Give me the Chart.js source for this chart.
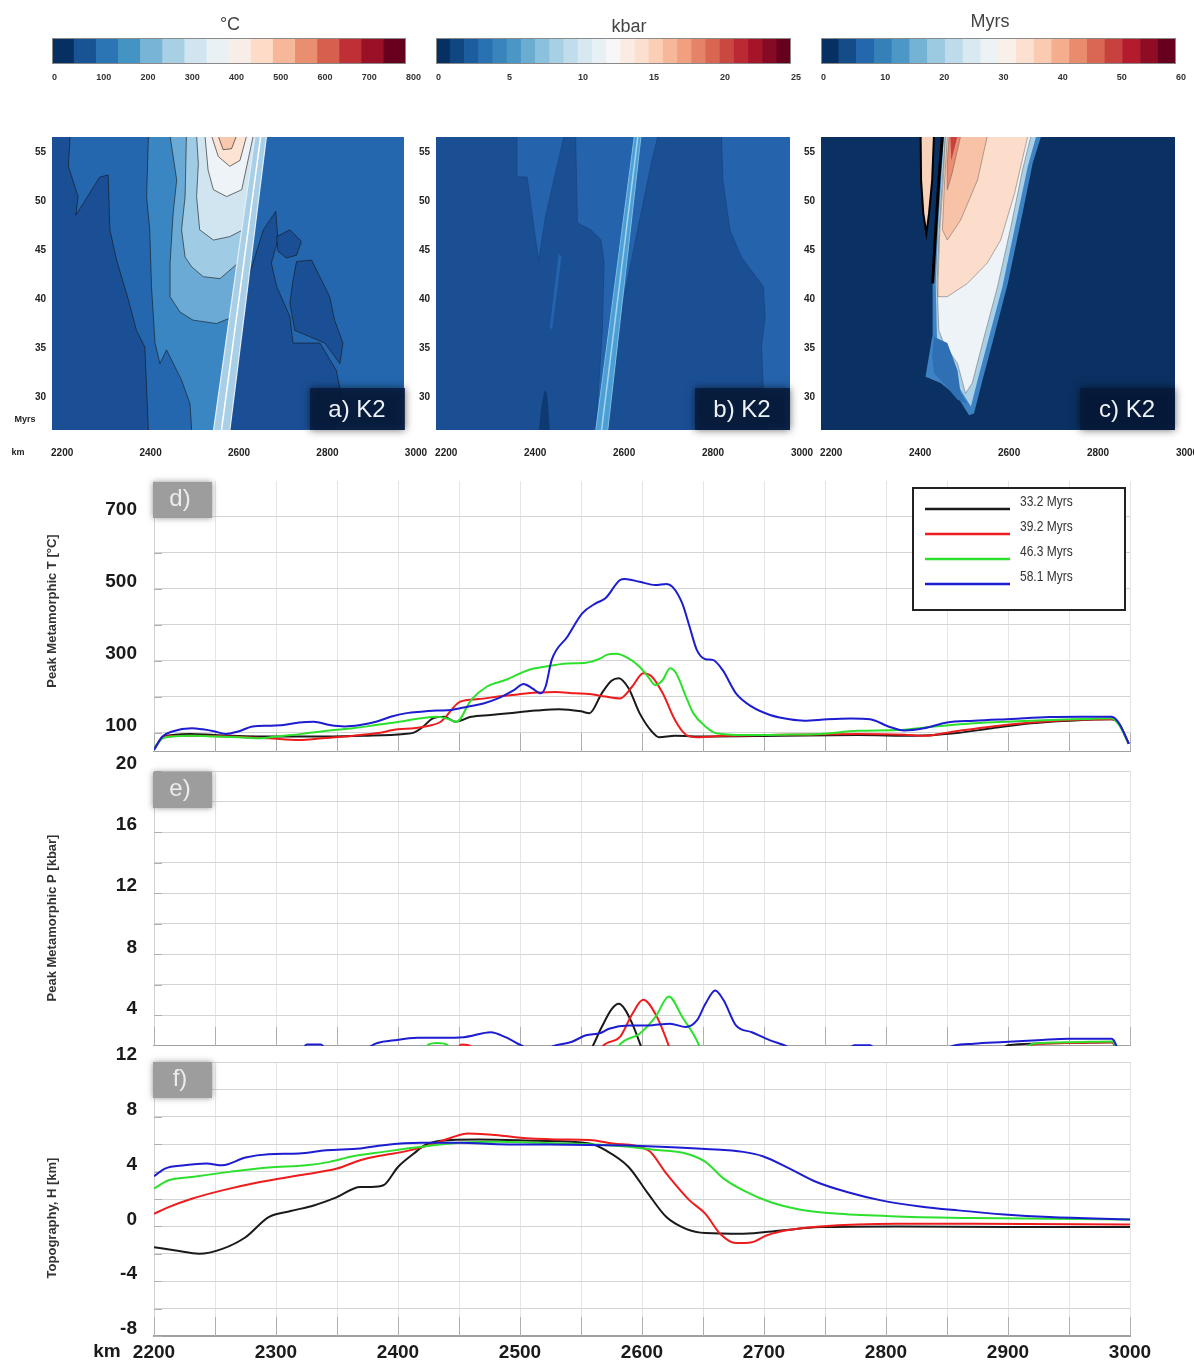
<!DOCTYPE html>
<html><head><meta charset="utf-8">
<script src="https://cdn.jsdelivr.net/npm/chart.js@4.4.1/dist/chart.umd.min.js"></script>
<style>
html,body{margin:0;padding:0;background:#fff;}
body{width:1194px;height:1365px;position:relative;overflow:hidden;}
</style></head><body>
<script>
// ---------------- DATA ----------------
// colour-bar levels and tick labels
const tempLevels = [0,50,100,150,200,250,300,350,400,450,500,550,600,650,700,750,800];
const tempTicks  = [0,100,200,300,400,500,600,700,800];
const presLevels = [0,1,2,3,4,5,6,7,8,9,10,11,12,13,14,15,16,17,18,19,20,21,22,23,24,25];
const presTicks  = [0,5,10,15,20,25];
const ageLevels  = [0,3,6,9,12,15,18,21,24,27,30,33,36,39,42,45,48,51,54,57,60];
const ageTicks   = [0,10,20,30,40,50,60];

// contour-map axes
const mapKmTicks  = [2200,2400,2600,2800,3000];
const mapMyrTicks = [30,35,40,45,50,55];

// panel a) peak T field, contour regions [km, Myrs]
const aDarkLeft  = [[2172,56.7],[2218,56.7],[2214,53.6],[2236,50.5],[2231,48.6],[2285,52.5],[2304,52.7],[2308,47.1],[2323,44.0],[2350,39.9],[2368,36.8],[2387,35.1],[2395,26.5],[2172,26.5]];
const aDarkRight = [[2579,26.5],[2587,32.7],[2606,38.2],[2624,42.6],[2655,47.1],[2683,49.0],[2688,46.05],[2673,43.7],[2685,41.3],[2715,38.2],[2722,35.5],[2783,35.5],[2820,32.7],[2835,29.3],[2813,26.5]];
const aBlob1     = [[2685,46.4],[2715,47.1],[2741,45.9],[2730,44.5],[2707,44.2],[2688,44.9]];
const aBlob2     = [[2730,43.85],[2764,44.0],[2786,42.0],[2805,40.25],[2816,37.85],[2835,35.5],[2828,33.4],[2794,35.5],[2760,36.15],[2726,36.8],[2715,39.56],[2722,41.95]];
const aL4  = [[2395,56.7],[2658,56.7],[2579,26.5],[2493,26.5],[2489,29.3],[2470,31.7],[2436,34.8],[2421,33.4],[2410,35.5],[2402,41.3],[2398,47.1],[2391,50.5]];
const aL5  = [[2444,56.7],[2655,56.7],[2587,38.2],[2549,37.5],[2496,37.85],[2466,38.7],[2444,40.25],[2444,43.7],[2451,48.8],[2459,52.2]];
const aL6  = [[2481,56.7],[2647,56.7],[2598,43.7],[2557,42.1],[2519,42.3],[2493,43.3],[2478,44.3],[2470,47.1],[2478,50.5]];
const aL7  = [[2504,56.7],[2640,56.7],[2609,47.1],[2579,46.4],[2542,46.05],[2511,47.1],[2504,50.5],[2508,53.9]];
const aL8  = [[2523,56.7],[2632,56.7],[2606,51.2],[2572,50.5],[2542,51.2],[2530,53.2]];
const aL9  = [[2538,56.7],[2617,56.7],[2602,54.2],[2579,53.6],[2553,54.6]];
const aL10 = [[2553,56.7],[2594,56.7],[2583,55.4],[2564,55.3]];
const aStripe     = [[2542,26.5],[2579,26.5],[2662,56.7],[2636,56.7]];
const aStripeLine = [[2560,26.5],[2649,56.7]];

// panel b) peak P field
const bLightLeft  = [[2359,56.7],[2465,56.7],[2442,52.2],[2423,48.4],[2408,44.0],[2401,46.05],[2382,52.5],[2359,52.5]];
const bLightMid   = [[2491,56.7],[2676,56.7],[2661,53.9],[2638,48.8],[2600,40.25],[2570,31.7],[2559,26.5],[2536,26.5],[2551,36.8],[2555,43.7],[2548,46.05],[2525,47.1],[2495,47.8]];
const bLightRight = [[2819,56.7],[2980,56.7],[2980,26.5],[2924,26.5],[2913,30.7],[2909,35.1],[2917,38.2],[2913,41.3],[2864,44.3],[2838,47.1],[2822,52.2]];
const bSliver     = [[2453,44.7],[2459,44.3],[2438,36.8],[2433,37.2]];
const bDarkSpot   = [[2408,26.5],[2433,26.5],[2427,30.3],[2421,30.7],[2414,29.0]];
const bStripe     = [[2536,26.5],[2563,26.5],[2638,56.7],[2623,56.7]];
const bStripeLine = [[2549,26.5],[2631,56.7]];

// panel c) age of peak field
const cOuter     = [[2450,56.7],[2672,56.7],[2653,53.9],[2627,48.1],[2597,41.6],[2566,36.15],[2540,31.7],[2521,28.3],[2510,28.1],[2484,30.0],[2446,31.4],[2412,32.05],[2427,36.15],[2428,41.6],[2435,47.1],[2442,52.2]];
const cLightBlue = [[2453,56.7],[2661,56.7],[2642,53.6],[2615,47.8],[2585,41.3],[2555,36.15],[2529,31.7],[2514,29.0],[2491,30.7],[2461,32.7],[2438,35.5],[2435,41.6],[2440,47.1],[2447,52.2]];
const cWhite     = [[2457,56.7],[2649,56.7],[2630,53.2],[2604,47.4],[2574,41.3],[2544,36.15],[2517,31.4],[2502,30.35],[2484,33.4],[2453,35.5],[2442,36.8],[2438,41.6],[2443,47.1],[2450,52.2]];
const cPeach     = [[2457,56.7],[2642,56.7],[2612,50.8],[2581,46.05],[2551,43.7],[2506,41.6],[2461,40.25],[2440,40.25],[2440,41.6],[2444,47.1],[2452,52.2]];
const cOrange1   = [[2461,56.7],[2551,56.7],[2529,52.2],[2491,48.1],[2461,46.05],[2450,47.1],[2455,52.2]];
const cOrange2   = [[2465,56.7],[2491,56.7],[2472,52.9],[2461,51.2],[2461,53.9]];
const cRed       = [[2468,56.7],[2484,56.7],[2470,54.2]];
const cBluePatch = [[2431,36.15],[2461,35.5],[2484,32.7],[2491,30.35],[2506,29.3],[2484,29.7],[2453,31.36],[2431,32.4],[2427,34.1]];
const cTongue    = [[2401,56.7],[2431,56.7],[2427,52.2],[2420,48.8],[2414,46.7],[2407,48.8],[2402,52.2]];
const cBlackEdge = [[2428,41.6],[2435,47.1],[2442,52.2],[2450,56.7]];

// profile panels
const seriesLabels = ['33.2 Myrs','39.2 Myrs','46.3 Myrs','58.1 Myrs'];
const kmGrid   = [2200,2250,2300,2350,2400,2450,2500,2550,2600,2650,2700,2750,2800,2850,2900,2950,3000];
const tempGrid = [100,200,300,400,500,600,700];
const presGrid = [2,4,6,8,10,12,14,16,18,20];
const topoGrid = [-8,-6,-4,-2,0,2,4,6,8,10,12];

// d) peak metamorphic T [°C]
const dT332 = [[2200,55],[2208,90],[2230,97],[2250,94],[2295,90],[2340,90],[2372,92],[2405,97],[2413,101],[2419,113],[2429,141],[2438,145],[2447,131],[2460,145],[2476,150],[2491,155],[2513,162],[2532,166],[2550,160],[2557,155],[2567,210],[2575,245],[2581,252],[2589,224],[2598,155],[2608,104],[2614,88],[2627,92],[2652,90],[2714,92],[2777,94],[2824,92],[2856,99],[2887,113],[2919,127],[2950,134],[2985,138],[2991,125],[2999,70]];
const dT392 = [[2200,55],[2208,90],[2231,92],[2262,90],[2294,85],[2319,80],[2338,85],[2357,90],[2382,99],[2400,110],[2413,113],[2422,118],[2435,131],[2451,187],[2466,194],[2482,201],[2498,207],[2514,212],[2529,214],[2545,210],[2557,208],[2570,201],[2582,196],[2592,229],[2601,266],[2608,257],[2617,210],[2627,136],[2636,95],[2645,88],[2667,92],[2714,95],[2777,97],[2815,95],[2831,92],[2856,104],[2887,118],[2919,129],[2950,136],[2985,138],[2991,125],[2999,70]];
const dT463 = [[2200,57],[2207,85],[2215,90],[2231,92],[2250,90],[2269,88],[2288,85],[2300,90],[2313,94],[2325,99],[2344,107],[2363,113],[2382,122],[2401,131],[2419,141],[2432,145],[2440,140],[2448,131],[2460,192],[2473,229],[2488,247],[2507,275],[2520,284],[2539,293],[2554,295],[2566,307],[2571,317],[2579,320],[2589,307],[2598,284],[2605,256],[2611,233],[2617,247],[2623,280],[2628,266],[2636,201],[2642,155],[2652,118],[2661,99],[2683,94],[2714,95],[2746,97],[2777,106],[2809,108],[2840,118],[2872,127],[2903,132],[2934,136],[2966,139],[2985,141],[2991,122],[2999,70]];
const dT581 = [[2200,53],[2207,90],[2215,104],[2231,113],[2240,110],[2250,104],[2259,97],[2269,104],[2281,118],[2294,120],[2306,122],[2319,129],[2331,131],[2344,122],[2356,118],[2369,122],[2382,131],[2394,145],[2407,155],[2419,159],[2432,162],[2444,164],[2457,173],[2470,182],[2482,196],[2495,219],[2503,236],[2510,224],[2517,210],[2521,229],[2526,303],[2539,368],[2551,432],[2562,460],[2570,474],[2582,525],[2586,528],[2598,520],[2611,511],[2620,514],[2625,506],[2633,460],[2639,395],[2645,330],[2652,305],[2658,303],[2666,275],[2677,210],[2690,173],[2705,150],[2721,138],[2733,134],[2752,138],[2771,140],[2787,138],[2802,118],[2815,107],[2831,113],[2850,129],[2872,134],[2903,139],[2934,144],[2959,145],[2985,145],[2991,127],[2999,70]];

// e) peak metamorphic P [kbar] (values below the 2 kbar axis floor are hidden)
const eP332 = [[2200,0],[2540,0],[2557,1.6],[2567,3.24],[2575,4.4],[2581,4.76],[2586,4.4],[2592,3.46],[2600,1.8],[2608,0],[2880,0],[2900,2.05],[2950,2.2],[2985,2.25],[2995,0.5]];
const eP392 = [[2200,0],[2440,0],[2452,2.1],[2462,1.8],[2470,0],[2555,0],[2568,2.0],[2582,2.6],[2592,4.1],[2601,5.02],[2611,4.1],[2622,2.0],[2630,0],[2900,0],[2920,2.1],[2950,2.2],[2985,2.25],[2995,0.5]];
const eP463 = [[2200,0],[2415,0],[2425,2.1],[2432,2.2],[2440,2.1],[2448,0],[2570,0],[2581,2.0],[2598,2.8],[2611,3.9],[2622,5.24],[2633,3.9],[2647,2.0],[2655,0],[2900,0],[2920,2.15],[2950,2.25],[2985,2.3],[2995,0.5]];
const eP581 = [[2200,0],[2320,1.5],[2325,2.1],[2337,2.1],[2342,1.5],[2360,0],[2378,2.0],[2397,2.37],[2416,2.54],[2435,2.54],[2454,2.58],[2476,2.9],[2488,2.58],[2501,2.04],[2507,1.8],[2520,1.8],[2529,2.04],[2542,2.26],[2554,2.7],[2566,2.85],[2573,3.13],[2589,3.35],[2605,3.35],[2623,3.46],[2636,3.24],[2645,3.67],[2652,4.76],[2660,5.63],[2667,4.98],[2677,3.35],[2690,2.9],[2705,2.37],[2718,2.0],[2730,1.5],[2765,1.5],[2774,2.05],[2787,2.05],[2795,1.5],[2840,1.5],[2856,2.04],[2872,2.15],[2897,2.26],[2928,2.4],[2950,2.47],[2985,2.47],[2995,0.5]];

// f) topography H [km]
const fH332 = [[2200,-1.52],[2218,-1.76],[2237,-2.0],[2256,-1.64],[2275,-0.79],[2294,0.68],[2312,1.12],[2331,1.53],[2350,2.14],[2369,2.88],[2378,2.88],[2388,3.0],[2400,4.34],[2413,5.32],[2422,5.93],[2435,6.25],[2466,6.35],[2514,6.25],[2557,6.05],[2570,5.56],[2589,4.34],[2605,2.39],[2620,0.68],[2636,-0.18],[2652,-0.49],[2683,-0.54],[2714,-0.3],[2746,-0.05],[2809,0],[2900,-0.05],[3000,-0.05]];
const fH392 = [[2200,0.92],[2212,1.41],[2231,2.02],[2256,2.63],[2287,3.24],[2319,3.73],[2350,4.22],[2369,4.83],[2388,5.2],[2404,5.44],[2426,5.93],[2444,6.49],[2457,6.79],[2482,6.66],[2498,6.49],[2529,6.35],[2557,6.3],[2576,6.05],[2605,5.56],[2620,3.85],[2639,1.9],[2652,0.92],[2664,-0.54],[2677,-1.22],[2690,-1.15],[2702,-0.66],[2721,-0.25],[2746,0],[2809,0.19],[2872,0.19],[3000,0.14]];
const fH463 = [[2200,2.76],[2212,3.37],[2231,3.61],[2262,3.98],[2294,4.3],[2325,4.46],[2344,4.71],[2363,5.12],[2388,5.44],[2419,5.81],[2451,6.1],[2482,6.18],[2514,6.1],[2557,6.0],[2589,5.81],[2608,5.61],[2636,5.32],[2652,4.71],[2667,3.49],[2683,2.63],[2705,1.78],[2730,1.22],[2762,0.92],[2809,0.73],[2872,0.61],[2934,0.56],[3000,0.51]];
const fH581 = [[2200,3.66],[2209,4.22],[2225,4.46],[2243,4.59],[2256,4.46],[2275,5.03],[2294,5.27],[2319,5.32],[2341,5.56],[2369,5.69],[2388,5.93],[2419,6.1],[2451,6.1],[2482,6.0],[2514,5.98],[2557,5.95],[2589,5.9],[2620,5.8],[2652,5.65],[2683,5.44],[2699,5.12],[2721,4.22],[2743,3.24],[2768,2.51],[2796,1.9],[2828,1.46],[2859,1.17],[2897,0.87],[2934,0.68],[3000,0.51]];

// ---------------- STYLE / HELPERS ----------------
const FONT = '"Liberation Sans", Arial, Helvetica, sans-serif';
const RDBU = ['#053061','#2166ac','#4393c3','#92c5de','#d1e5f0','#f7f7f7','#fddbc7','#f4a582','#d6604d','#b2182b','#67001f'];
function hx(h){return [parseInt(h.slice(1,3),16),parseInt(h.slice(3,5),16),parseInt(h.slice(5,7),16)];}
function rdbu(t){const p=t*(RDBU.length-1);const i=Math.min(Math.floor(p),RDBU.length-2);const f=p-i;const a=hx(RDBU[i]),b=hx(RDBU[i+1]);
  return 'rgb('+a.map((v,k)=>Math.round(v+(b[k]-v)*f)).join(',')+')';}
const noPadX = s=>{s.paddingLeft=0;s.paddingRight=0;};
const noPadY = s=>{s.paddingTop=0;s.paddingBottom=0;};

const deco = {
  id:'deco',
  beforeDatasetsDraw(chart,args,o){
    const ctx=chart.ctx,a=chart.chartArea;
    if(o.bg){ctx.save();ctx.fillStyle=o.bg;ctx.fillRect(a.left,a.top,a.right-a.left,a.bottom-a.top);ctx.restore();}
    if(o.innerTicks){
      const xs=chart.scales.x,ys=chart.scales.y;ctx.save();ctx.strokeStyle='#b0b0b0';ctx.lineWidth=1;
      xs.ticks.forEach(t=>{const px=Math.round(xs.getPixelForValue(t.value))+0.5;ctx.beginPath();ctx.moveTo(px,a.bottom);ctx.lineTo(px,a.bottom-19);ctx.stroke();});
      ys.ticks.forEach(t=>{const py=Math.round(ys.getPixelForValue(t.value))+0.5;ctx.beginPath();ctx.moveTo(a.left,py);ctx.lineTo(a.left+8,py);ctx.stroke();});
      ctx.restore();
    }
  },
  afterDraw(chart,args,o){
    const ctx=chart.ctx,a=chart.chartArea;
    ctx.save();
    if(o.frame){ctx.strokeStyle=o.frame;ctx.lineWidth=1;ctx.strokeRect(a.left+0.5,a.top+0.5,a.right-a.left-1,a.bottom-a.top-1);}
    ctx.translate(-(o.ox||0),-(o.oy||0));
    (o.boxes||[]).forEach(b=>{ctx.save();if(b.blur){ctx.shadowColor=b.shadow||'rgba(0,0,0,0.6)';ctx.shadowBlur=b.blur;}
      ctx.fillStyle=b.fill;ctx.fillRect(b.x,b.y,b.w,b.h);ctx.restore();});
    if(o.legend){
      const L=o.legend;ctx.fillStyle='#fff';ctx.fillRect(L.x,L.y,L.w,L.h);
      ctx.strokeStyle='#222';ctx.lineWidth=2;ctx.strokeRect(L.x,L.y,L.w,L.h);
      chart.data.datasets.forEach((ds,i)=>{const y=L.y+21+i*25;ctx.strokeStyle=ds.borderColor;ctx.lineWidth=2.5;
        ctx.beginPath();ctx.moveTo(L.x+12,y);ctx.lineTo(L.x+97,y);ctx.stroke();
        ctx.save();ctx.translate(L.x+107,y-7);ctx.scale(0.8,1);
        ctx.fillStyle='#333';ctx.font='15px '+FONT;ctx.textAlign='left';ctx.textBaseline='middle';ctx.fillText(ds.label,0,0);ctx.restore();});
    }
    (o.texts||[]).forEach(t=>{ctx.save();ctx.translate(t.x,t.y);if(t.rot)ctx.rotate(t.rot);ctx.font=t.font;ctx.fillStyle=t.color||'#222';
      ctx.textAlign=t.align||'center';ctx.textBaseline='middle';ctx.fillText(t.t,0,0);ctx.restore();});
    ctx.restore();
  }
};
Chart.register(deco);

function mk(left,top,w,h){const c=document.createElement('canvas');c.width=w;c.height=h;
  c.style.cssText='position:absolute;left:'+left+'px;top:'+top+'px;width:'+w+'px;height:'+h+'px';document.body.appendChild(c);return c;}

// ---------------- COLOUR BARS ----------------
function colorbar(left,w,padR,levels,ticks,title,tx,ty){
  const n=levels.length-1,pts=[],cols=[];
  for(let i=0;i<n;i++){pts.push({x:(levels[i]+levels[i+1])/2,y:1});cols.push(rdbu(i/(n-1)));}
  new Chart(mk(left,10,w,80),{type:'bar',
    data:{datasets:[{data:pts,backgroundColor:cols,borderWidth:0,barPercentage:1,categoryPercentage:1}]},
    options:{responsive:false,animation:false,events:[],layout:{padding:{left:22,right:padR,top:28,bottom:0}},
      plugins:{legend:{display:false},tooltip:{enabled:false},
        deco:{frame:'#8a8a8a',ox:left,oy:10,texts:[{t:title,x:tx,y:ty,font:'18px '+FONT,color:'#444'}]}},
      scales:{x:{type:'linear',min:levels[0],max:levels[n],offset:false,grid:{display:false,drawTicks:false},border:{display:false},
          afterBuildTicks:s=>{s.ticks=ticks.map(v=>({value:v}));},afterFit:s=>{s.height=26;noPadX(s);},
          ticks:{align:'start',padding:8,autoSkip:false,maxRotation:0,font:{family:FONT,size:9,weight:'bold'},color:'#333',callback:v=>String(v)}},
        y:{display:false,min:0,max:1}}}});
}
colorbar(30,400,24,tempLevels,tempTicks,'°C',230,25);
colorbar(414,400,23,presLevels,presTicks,'kbar',629,27);
colorbar(799,395,18,ageLevels,ageTicks,'Myrs',990,22);

// ---------------- CONTOUR MAPS ----------------
function poly(pts,color,bc,bw){return {data:pts.concat([pts[0]]),backgroundColor:color,borderColor:bc||'rgba(0,0,0,0)',borderWidth:bw||0,fill:'shape',pointRadius:0,tension:0};}
function pline(pts,color,bw){return {data:pts,borderColor:color,borderWidth:bw,fill:false,pointRadius:0,tension:0};}
function contourMap(left,w,padR,bg,sets,tag,extraTexts){
  const N=sets.length;sets.forEach((s,i)=>{s.order=N-i;});
  new Chart(mk(left,120,w,350),{type:'line',data:{datasets:sets},
    options:{responsive:false,animation:false,events:[],layout:{padding:{left:0,right:padR,top:17,bottom:0}},
      plugins:{legend:{display:false},tooltip:{enabled:false},
        deco:{bg:bg,ox:left,oy:120,
          boxes:[{x:tag.x,y:388,w:95,h:42,fill:'rgba(6,26,58,0.82)',blur:8,shadow:'rgba(0,0,0,0.7)'}],
          texts:[{t:tag.t,x:tag.x+47,y:410,font:'24px '+FONT,color:'#eef2f7'}].concat(extraTexts||[])}},
      scales:{
        x:{type:'linear',min:2177,max:2973,grid:{display:false,drawTicks:false},border:{display:false},
          afterBuildTicks:s=>{s.ticks=mapKmTicks.map(v=>({value:v}));},afterFit:s=>{s.height=40;noPadX(s);},
          ticks:{padding:17,autoSkip:false,maxRotation:0,font:{family:FONT,size:10,weight:'bold'},color:'#222',callback:v=>String(v)}},
        y:{type:'linear',min:26.6,max:56.6,grid:{display:false,drawTicks:false},border:{display:false},
          afterBuildTicks:s=>{s.ticks=mapMyrTicks.map(v=>({value:v}));},afterFit:s=>{s.width=52;noPadY(s);},
          ticks:{padding:6,autoSkip:false,font:{family:FONT,size:10,weight:'bold'},color:'#222',callback:v=>String(v)}}}}});
}
const CL='rgba(20,20,20,0.75)';
contourMap(0,440,36,'#2467ae',[
  poly(aDarkLeft,'#1b4f95',CL,0.8),poly(aDarkRight,'#1b4f95',CL,0.8),poly(aBlob2,'#1b4f95',CL,0.8),poly(aBlob1,'#1b4f95',CL,0.8),
  poly(aL4,'#3a86c3',CL,0.8),poly(aL5,'#6aaad5',CL,0.8),poly(aL6,'#9fcbe4',CL,0.8),poly(aL7,'#d1e5f0',CL,0.8),
  poly(aL8,'#eef3f8',CL,0.8),poly(aL9,'#fce3d3',CL,0.8),poly(aL10,'#f9c9ad',CL,0.8),
  poly(aStripe,'#a8cfe6','#e3eff8',1.2),pline(aStripeLine,'#ffffff',1.5)
],{x:310,t:'a) K2'},[
  {t:'Myrs',x:25,y:420,font:'bold 9px '+FONT,color:'#222'},
  {t:'km',x:18,y:453,font:'bold 9px '+FONT,color:'#222'}]);
contourMap(384,440,34,'#1b4f94',[
  poly(bLightLeft,'#2563ad','#163f78',0.6),poly(bLightMid,'#2563ad','#163f78',0.6),poly(bLightRight,'#2563ad','#163f78',0.6),
  poly(bSliver,'#2563ad'),poly(bDarkSpot,'#0d3a70'),
  poly(bStripe,'#4b9fd5','#7fbde3',1),pline(bStripeLine,'#a5d3ee',1.5)
],{x:695,t:'b) K2'});
const CG='rgba(90,90,90,0.6)';
contourMap(769,425,19,'#0a3162',[
  poly(cOuter,'#3d82c2'),poly(cLightBlue,'#a9d0e6'),poly(cWhite,'#eef3f8',CG,0.8),poly(cPeach,'#fcdccb',CG,0.8),
  poly(cOrange1,'#f8c2a6',CG,0.8),poly(cOrange2,'#ea8d70',CG,0.8),poly(cRed,'#c8413f'),
  poly(cBluePatch,'#2f70b4'),poly(cTongue,'#f9d2bb','#000',2),pline(cBlackEdge,'#000',3)
],{x:1080,t:'c) K2'});

// ---------------- PROFILE PANELS ----------------
const LCOL=['#1a1a1a','#ee1c1c','#2ee02e','#1c1cd0'];
function profile(top,h,padTop,xh,showX,yMin,yMax,yGrid,labelEvery,series,o){
  const N=series.length;
  const ds=series.map((d,i)=>({label:seriesLabels[i],data:d,borderColor:LCOL[i],borderWidth:2,pointRadius:0,fill:false,
    tension:0.4,cubicInterpolationMode:'monotone',order:N-1-i}));
  new Chart(mk(0,top,1194,h),{type:'line',data:{datasets:ds},
    options:{responsive:false,animation:false,events:[],layout:{autoPadding:false,padding:{left:0,right:64,top:padTop,bottom:0}},
      plugins:{legend:{display:false},tooltip:{enabled:false},deco:Object.assign({innerTicks:true,ox:0,oy:top},o)},
      scales:{
        x:{type:'linear',min:2200,max:3000,grid:{color:'#e4e4e4',drawTicks:false},border:{color:'#a0a0a0',width:2},
          afterBuildTicks:s=>{s.ticks=kmGrid.map(v=>({value:v}));},afterFit:s=>{s.height=xh;noPadX(s);},
          ticks:{display:showX,padding:5,autoSkip:false,maxRotation:0,font:{family:FONT,size:19,weight:'bold'},color:'#1a1a1a',
            callback:v=>(v%100===0?String(v):'')}},
        y:{type:'linear',min:yMin,max:yMax,grid:{color:'#d4d4d4',drawTicks:false},border:{color:'#d0d0d0',width:1},
          afterBuildTicks:s=>{s.ticks=yGrid.map(v=>({value:v}));},afterFit:s=>{s.width=154;noPadY(s);},
          ticks:{padding:17,labelOffset:-7,autoSkip:false,font:{family:FONT,size:19,weight:'bold'},color:'#1a1a1a',
            callback:v=>(labelEvery(v)?String(v):'')}}}}});
}
function tagBox(y,t){return {box:{x:153,y:y,w:59,h:36,fill:'#9d9d9d',blur:6,shadow:'rgba(120,120,120,0.8)'},txt:{t:t,x:180,y:y+17,font:'24px '+FONT,color:'#ececec'}};}
const tD=tagBox(482,'d)'),tE=tagBox(772,'e)'),tF=tagBox(1062,'f)');
profile(470,282,11,0,false,47,800,tempGrid,v=>v%200===100,[dT332,dT392,dT463,dT581],
  {boxes:[tD.box],texts:[tD.txt,{t:'Peak Metamorphic T [°C]',x:52,y:611,rot:-Math.PI/2,font:'bold 13px '+FONT,color:'#333'}],
   legend:{x:913,y:488,w:212,h:122}});
profile(752,294,19,0,false,2,20,presGrid,v=>v%4===0,[eP332,eP392,eP463,eP581],
  {boxes:[tE.box],texts:[tE.txt,{t:'Peak Metamorphic P [kbar]',x:52,y:918,rot:-Math.PI/2,font:'bold 13px '+FONT,color:'#333'}]});
profile(1046,319,16,29,true,-8,12,topoGrid,v=>v%4===0,[fH332,fH392,fH463,fH581],
  {boxes:[tF.box],texts:[tF.txt,{t:'Topography, H [km]',x:52,y:1218,rot:-Math.PI/2,font:'bold 13px '+FONT,color:'#333'},
    {t:'km',x:107,y:1352,font:'bold 19px '+FONT,color:'#1a1a1a'}]});
</script>
</body></html>
